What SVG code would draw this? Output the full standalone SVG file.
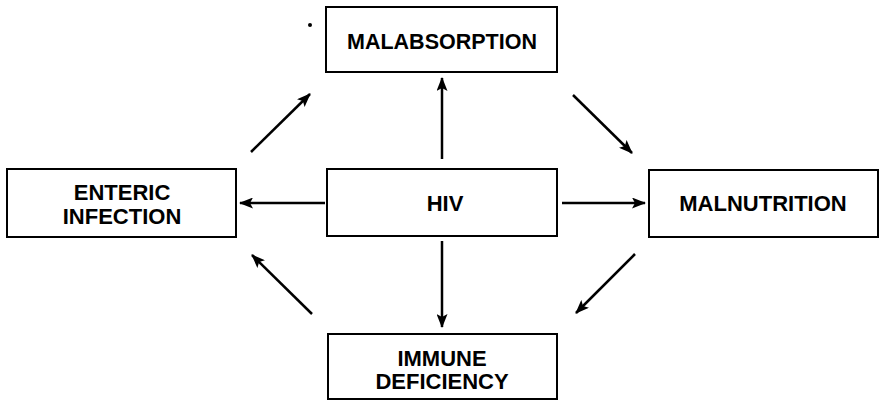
<svg xmlns="http://www.w3.org/2000/svg" width="880" height="401" viewBox="0 0 880 401">
<defs>
<marker id="ah" viewBox="0 0 14 11" refX="13" refY="5.5" markerWidth="14" markerHeight="11" markerUnits="userSpaceOnUse" orient="auto">
<path d="M0,0 L14,5.5 L0,11 L3,5.5 Z" fill="#000"/>
</marker>
<style>
.box{fill:#fff;stroke:#000;stroke-width:2}
.lbl{font-family:"Liberation Sans",Arial,Helvetica,sans-serif;font-weight:bold;font-size:22px;fill:#000;text-anchor:middle}
.con{stroke:#000;stroke-width:2.5;fill:none;marker-end:url(#ah)}
</style>
</defs>
<rect width="880" height="401" fill="#fff"/>
<circle cx="310" cy="25" r="2" fill="#000"/>
<g id="malabsorption">
<rect class="box" x="326" y="7" width="231" height="65"/>
<text class="lbl" x="442" y="49" textLength="190" lengthAdjust="spacingAndGlyphs">MALABSORPTION</text>
</g>
<g id="enteric">
<rect class="box" x="7" y="169" width="229" height="68"/>
<text class="lbl" x="122" y="200">ENTERIC</text>
<text class="lbl" x="122" y="224">INFECTION</text>
</g>
<g id="hiv">
<rect class="box" x="327" y="169" width="230" height="67"/>
<text class="lbl" x="445" y="211">HIV</text>
</g>
<g id="malnutrition">
<rect class="box" x="649" y="170" width="229" height="67"/>
<text class="lbl" x="763" y="211">MALNUTRITION</text>
</g>
<g id="immune">
<rect class="box" x="328" y="334" width="229" height="65"/>
<text class="lbl" x="442" y="366">IMMUNE</text>
<text class="lbl" x="442" y="389">DEFICIENCY</text>
</g>
<g id="connectors">
<line class="con" x1="442" y1="159" x2="442" y2="78"/>
<line class="con" x1="325" y1="203" x2="240" y2="203"/>
<line class="con" x1="562" y1="203" x2="645" y2="203"/>
<line class="con" x1="442" y1="241" x2="442" y2="327"/>
<line class="con" x1="251" y1="152" x2="310" y2="94"/>
<line class="con" x1="573" y1="95" x2="632" y2="153"/>
<line class="con" x1="635" y1="254" x2="576" y2="313"/>
<line class="con" x1="312" y1="314" x2="252" y2="255"/>
</g>
</svg>
